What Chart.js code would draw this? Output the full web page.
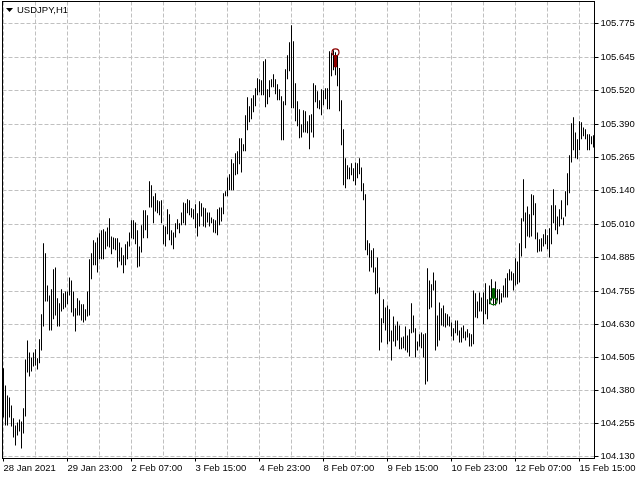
<!DOCTYPE html>
<html>
<head>
<meta charset="utf-8">
<style>
  html, body { margin: 0; padding: 0; background: #fff; overflow: hidden; }
  #chart { display: block; }
</style>
<script src="https://cdn.jsdelivr.net/npm/chart.js@4"></script>
</head>
<body>
<div style="width:640px;height:480px"><canvas id="chart"></canvas></div>
<script>
const symbolTitle = 'USDJPY,H1';
const xTickLabels = ['28 Jan 2021', '29 Jan 23:00', '2 Feb 07:00', '3 Feb 15:00', '4 Feb 23:00',
    '8 Feb 07:00', '9 Feb 15:00', '10 Feb 23:00', '12 Feb 07:00', '15 Feb 15:00'];
const yTickValues = [105.775, 105.645, 105.520, 105.390, 105.265, 105.140, 105.010,
    104.885, 104.755, 104.630, 104.505, 104.380, 104.255, 104.130];

const highs = [
    104.464,104.399,104.361,104.353,104.323,104.274,104.247,104.258,104.270,104.262,
    104.312,104.498,104.570,104.524,104.505,104.524,104.536,104.502,104.574,104.669,
    104.939,104.901,104.779,104.741,104.764,104.840,104.847,104.730,104.711,104.764,
    104.749,104.756,104.756,104.809,104.798,104.756,104.692,104.730,104.722,104.707,
    104.707,104.688,104.756,104.878,104.901,104.950,104.942,104.961,104.977,104.988,
    104.992,104.984,104.999,105.034,104.965,104.961,104.958,104.958,104.942,104.923,
    104.893,104.935,104.946,104.980,105.026,105.026,105.018,104.988,104.927,105.007,
    105.064,105.064,105.045,105.174,105.159,105.117,105.129,105.102,105.098,105.102,
    105.007,105.003,105.068,105.049,104.988,104.980,105.015,105.030,105.015,105.056,
    105.094,105.091,105.106,105.102,105.072,105.068,105.087,105.053,105.098,105.091,
    105.075,105.072,105.056,105.056,105.037,105.030,105.026,105.068,105.075,105.075,
    105.129,105.136,105.189,105.201,105.258,105.243,105.281,105.288,105.338,105.338,
    105.315,105.425,105.493,105.459,105.490,105.501,105.528,105.566,105.562,105.558,
    105.630,105.638,105.524,105.558,105.562,105.581,105.562,105.543,105.524,105.497,
    105.478,105.600,105.653,105.702,105.767,105.706,105.547,105.478,105.448,105.391,
    105.444,105.440,105.402,105.425,105.429,105.547,105.539,105.516,105.482,105.524,
    105.520,105.528,105.528,105.668,105.661,105.672,105.664,105.653,105.604,105.482,
    105.372,105.262,105.235,105.227,105.243,105.224,105.246,105.243,105.262,105.227,
    105.167,105.125,104.950,104.939,104.912,104.920,104.847,104.885,104.771,104.654,
    104.726,104.695,104.703,104.688,104.608,104.661,104.627,104.642,104.627,104.581,
    104.585,104.623,104.589,104.612,104.711,104.665,104.616,104.566,104.593,104.600,
    104.593,104.597,104.844,104.798,104.783,104.828,104.798,104.665,104.714,104.692,
    104.703,104.673,104.669,104.661,104.638,104.616,104.646,104.646,104.608,104.619,
    104.627,104.604,104.612,104.597,104.593,104.760,104.749,104.718,104.752,104.733,
    104.752,104.787,104.726,104.779,104.802,104.768,104.794,104.764,104.764,104.749,
    104.779,104.806,104.825,104.840,104.832,104.825,104.882,104.870,104.939,105.034,
    105.182,105.056,105.079,105.049,105.125,105.121,105.091,104.980,104.954,104.958,
    104.973,104.992,104.969,104.996,105.083,105.144,105.083,105.041,105.068,105.102,
    105.037,105.136,105.205,105.273,105.395,105.417,105.360,105.334,105.402,105.398,
    105.379,105.372,105.353,105.353,105.345,105.349
];
const lows = [
    104.277,104.247,104.247,104.277,104.243,104.201,104.171,104.209,104.224,104.160,
    104.217,104.281,104.448,104.433,104.452,104.471,104.475,104.460,104.483,104.532,
    104.623,104.718,104.718,104.608,104.608,104.650,104.665,104.623,104.623,104.680,
    104.688,104.695,104.707,104.741,104.676,104.661,104.604,104.665,104.665,104.646,
    104.638,104.646,104.661,104.665,104.802,104.855,104.855,104.828,104.878,104.878,
    104.878,104.916,104.927,104.923,104.897,104.916,104.912,104.847,104.870,104.855,
    104.825,104.855,104.878,104.927,104.958,104.954,104.935,104.847,104.851,104.904,
    104.958,104.988,104.958,105.075,105.075,105.015,105.060,105.053,105.045,105.015,
    104.935,104.927,104.973,104.950,104.931,104.916,104.961,104.992,104.977,105.007,
    105.015,105.007,105.053,105.045,105.037,105.030,104.996,104.965,105.003,105.041,
    105.003,104.999,105.018,105.003,105.015,104.980,104.977,104.969,105.007,105.022,
    105.049,105.117,105.117,105.140,105.140,105.140,105.197,105.201,105.239,105.208,
    105.288,105.288,105.368,105.398,105.410,105.436,105.459,105.501,105.512,105.501,
    105.501,105.455,105.467,105.493,105.531,105.531,105.505,105.482,105.482,105.330,
    105.330,105.463,105.562,105.592,105.452,105.452,105.402,105.383,105.338,105.341,
    105.360,105.360,105.357,105.296,105.360,105.341,105.474,105.452,105.448,105.425,
    105.463,105.486,105.448,105.448,105.573,105.596,105.577,105.535,105.440,105.311,
    105.159,105.148,105.182,105.182,105.197,105.174,105.159,105.186,105.201,105.136,
    105.102,104.912,104.893,104.832,104.847,104.828,104.745,104.749,104.532,104.562,
    104.635,104.608,104.555,104.566,104.494,104.566,104.547,104.570,104.536,104.536,
    104.540,104.532,104.524,104.509,104.597,104.600,104.505,104.532,104.547,104.540,
    104.505,104.403,104.414,104.688,104.695,104.760,104.532,104.547,104.570,104.627,
    104.623,104.619,104.627,104.623,104.585,104.570,104.597,104.589,104.562,104.562,
    104.578,104.570,104.581,104.547,104.547,104.555,104.657,104.654,104.680,104.680,
    104.631,104.669,104.650,104.707,104.722,104.703,104.703,104.722,104.707,104.714,
    104.733,104.733,104.733,104.798,104.798,104.760,104.779,104.783,104.790,104.889,
    105.022,104.920,104.965,104.961,104.965,105.045,104.954,104.904,104.908,104.908,
    104.927,104.935,104.916,104.885,104.935,105.015,104.988,104.973,105.003,105.030,
    105.007,105.041,105.083,105.129,105.246,105.292,105.262,105.258,105.292,105.334,
    105.345,105.334,105.292,105.292,105.315,105.303
];

// trade arrows: bar index, stem [low, high], ring price
const sellBar = 166;
const sellStem = [105.607, 105.653];
const sellRing = 105.664;
const buyBar = 245;
const buyStem = [104.730, 104.768];
const buyRing = 104.719;

const barIndex = highs.map((_, i) => i);

const frameAndTitle = {
    id: 'frameAndTitle',
    afterDraw(chart) {
        const { ctx, chartArea: { left, top, width, height } } = chart;
        ctx.save();
        ctx.strokeStyle = '#000';
        ctx.lineWidth = 1;
        ctx.strokeRect(left, top, width, height);
        ctx.fillStyle = '#000';
        ctx.beginPath();
        ctx.moveTo(6, 8);
        ctx.lineTo(13, 8);
        ctx.lineTo(9.5, 12);
        ctx.closePath();
        ctx.fill();
        ctx.font = '9.5px "Liberation Sans"';
        ctx.textBaseline = 'middle';
        ctx.textAlign = 'left';
        ctx.fillText(symbolTitle, 17, 10);
        ctx.restore();
    }
};

Chart.defaults.font.family = '"Liberation Sans"';
Chart.defaults.font.size = 9.5;
Chart.defaults.color = 'black';

new Chart(document.getElementById('chart'), {
    data: {
        labels: barIndex,
        datasets: [{
            type: 'line',
            data: barIndex.map(i => i === sellBar ? sellRing : null),
            showLine: false,
            pointStyle: 'circle',
            pointRadius: 3.5,
            pointBorderWidth: 1.2,
            pointBorderColor: '#8b0000',
            pointBackgroundColor: 'transparent',
            order: 1
        }, {
            type: 'line',
            data: barIndex.map(i => i === buyBar ? buyRing : null),
            showLine: false,
            pointStyle: 'circle',
            pointRadius: 3.5,
            pointBorderWidth: 1.2,
            pointBorderColor: '#006400',
            pointBackgroundColor: 'transparent',
            order: 1
        }, {
            type: 'bar',
            data: barIndex.map(i => i === sellBar ? sellStem : null),
            backgroundColor: '#8b0000',
            barThickness: 3,
            maxBarThickness: 3,
            inflateAmount: 0,
            grouped: false,
            order: 2
        }, {
            type: 'bar',
            data: barIndex.map(i => i === buyBar ? buyStem : null),
            backgroundColor: '#006400',
            barThickness: 3,
            maxBarThickness: 3,
            inflateAmount: 0,
            grouped: false,
            order: 2
        }, {
            type: 'bar',
            data: barIndex.map(i => [lows[i], highs[i]]),
            backgroundColor: '#000',
            barThickness: 1,
            maxBarThickness: 1,
            inflateAmount: 0,
            grouped: false,
            order: 3
        }]
    },
    options: {
        responsive: true,
        maintainAspectRatio: false,
        animation: false,
        layout: { autoPadding: false, padding: { left: 2.5, top: 1.5, right: 0, bottom: 0 } },
        plugins: { legend: { display: false }, tooltip: { enabled: false }, title: { display: false } },
        scales: {
            x: {
                offset: true,
                afterFit(scale) {
                    scale.height = 21.5;
                    scale.paddingLeft = 0;
                    scale.paddingRight = 0;
                },
                border: { display: false, dash: [4, 2] },
                grid: {
                    offset: false,
                    tickLength: 3,
                    color: c => c.index % 16 === 0 ? '#c0c0c0' : 'transparent',
                    tickColor: c => c.index % 32 === 0 ? '#000' : 'transparent'
                },
                ticks: {
                    autoSkip: false,
                    maxRotation: 0,
                    minRotation: 0,
                    align: 'start',
                    padding: 1,
                    callback: (v, i) => i % 32 === 0 ? xTickLabels[i / 32] : ''
                }
            },
            y: {
                position: 'right',
                min: 104.1216,
                max: 105.857,
                afterBuildTicks(scale) {
                    scale.ticks = yTickValues.map(v => ({ value: v }));
                },
                afterFit(scale) {
                    scale.width = 45.5;
                    scale.paddingTop = 0;
                    scale.paddingBottom = 0;
                },
                border: { display: false, dash: [4, 2] },
                grid: {
                    tickLength: 4,
                    color: '#c0c0c0',
                    tickColor: '#000'
                },
                ticks: {
                    autoSkip: false,
                    padding: 2,
                    callback: v => v.toFixed(3)
                }
            }
        }
    },
    plugins: [frameAndTitle]
});
</script>
</body>
</html>
